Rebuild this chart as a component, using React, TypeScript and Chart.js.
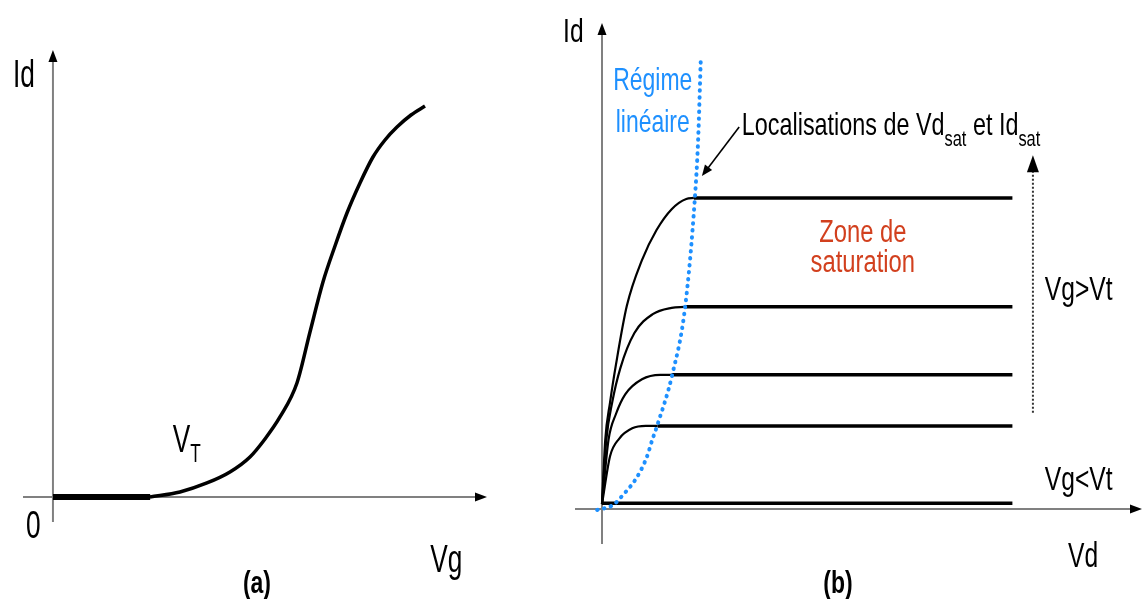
import React, { useEffect, useRef } from "react";
import { Chart, registerables } from "chart.js";
Chart.register(...registerables);

// ---------------- Panel (a): Id = f(Vg) ----------------
const offVg = [0, 2.24];
const offId = [0, 0];
const onVg = [2.235, 2.926, 3.548, 4.078, 4.539, 4.885, 5.23, 5.622, 5.922, 6.221, 6.498, 6.774, 7.074, 7.373, 7.65, 7.926, 8.249, 8.571];
const onId = [0, 0.112, 0.313, 0.559, 0.895, 1.298, 1.79, 2.55, 3.691, 4.81, 5.615, 6.353, 7.025, 7.606, 7.987, 8.277, 8.546, 8.747];

// ---------------- Panel (b): Id = f(Vd) ----------------
const curveVd = [
  [0, 0.06, 0.15, 0.26, 0.46, 0.74, 1.01, 1.29, 1.56, 1.7],
  [0, 0.08, 0.19, 0.34, 0.6, 0.94, 1.29, 1.53],
  [0, 0.12, 0.26, 0.43, 0.74, 1.08, 1.29],
  [0, 0.15, 0.32, 0.56, 0.81, 1.03],
];
const curveId = [
  [0.1, 1.42, 2.2, 2.98, 4.18, 5.12, 5.74, 6.17, 6.38, 6.4],
  [0.1, 1.42, 2.2, 2.9, 3.62, 4.01, 4.14, 4.16],
  [0.1, 1.42, 1.96, 2.36, 2.67, 2.76, 2.76],
  [0.1, 1.09, 1.45, 1.66, 1.71, 1.71],
];
const satVd = [1.7, 1.53, 1.29, 1.03];
const satId = [6.4, 4.16, 2.76, 1.71];
const flatEndVd = 7.6;
const offStateId = 0.12;
const locusVd = [-0.09, 0.2, 0.39, 0.65, 0.83, 0.93, 1.02, 1.3, 1.54, 1.72, 1.78, 1.83];
const locusId = [-0.02, 0.08, 0.29, 0.66, 1.07, 1.42, 1.71, 2.76, 4.16, 6.4, 7.59, 9.28];

const FONT = '"Liberation Sans", Arial, sans-serif';
const SX = 0.82;
const BLUE = "#1E90FF";
const RED = "#D2401E";

const pts = (xs: number[], ys: number[]) => xs.map((x, i) => ({ x, y: ys[i] }));

function text(
  ctx: CanvasRenderingContext2D,
  s: string,
  x: number,
  y: number,
  size: number,
  o: { bold?: boolean; color?: string; align?: CanvasTextAlign; sy?: number } = {}
) {
  ctx.save();
  ctx.font = `${o.bold ? "bold " : ""}${size}px ${FONT}`;
  const w = ctx.measureText(s).width * SX;
  let dx = 0;
  if (o.align === "center") dx = -w / 2;
  if (o.align === "right") dx = -w;
  ctx.translate(x + dx, y);
  ctx.scale(SX, o.sy ?? 1);
  ctx.fillStyle = o.color ?? "#000";
  ctx.textAlign = "left";
  ctx.textBaseline = "alphabetic";
  ctx.fillText(s, 0, 0);
  ctx.restore();
  return w;
}

function head(ctx: CanvasRenderingContext2D, x: number, y: number, ang: number, len: number, hw: number, color = "#000") {
  ctx.save();
  ctx.translate(x, y);
  ctx.rotate(ang);
  ctx.fillStyle = color;
  ctx.beginPath();
  ctx.moveTo(0, 0);
  ctx.lineTo(-len, -hw);
  ctx.lineTo(-len, hw);
  ctx.closePath();
  ctx.fill();
  ctx.restore();
}

const axesPlugin = {
  id: "arrowAxes",
  beforeDatasetsDraw(chart: any) {
    const { ctx, chartArea: a, scales } = chart;
    const x0 = scales.x.getPixelForValue(0);
    const y0 = scales.y.getPixelForValue(0);
    ctx.save();
    ctx.strokeStyle = "#808080";
    ctx.lineWidth = 2;
    ctx.beginPath();
    ctx.moveTo(a.left, y0);
    ctx.lineTo(a.right - 6, y0);
    ctx.moveTo(x0, a.bottom);
    ctx.lineTo(x0, a.top + 6);
    ctx.stroke();
    head(ctx, a.right, y0, 0, 12, 4.5);
    head(ctx, x0, a.top, -Math.PI / 2, 12, 4.5);
    ctx.restore();
  },
};

function baseOptions(pad: any, xr: [number, number], yr: [number, number]) {
  return {
    responsive: false,
    animation: false as const,
    layout: { padding: pad },
    plugins: { legend: { display: false }, tooltip: { enabled: false } },
    scales: {
      x: { type: "linear" as const, display: false, min: xr[0], max: xr[1] },
      y: { type: "linear" as const, display: false, min: yr[0], max: yr[1] },
    },
    elements: { point: { radius: 0 } },
  };
}

const labelsA = {
  id: "labelsA",
  afterDatasetsDraw(chart: any) {
    const { ctx, scales } = chart;
    const X = (v: number) => scales.x.getPixelForValue(v);
    const Y = (v: number) => scales.y.getPixelForValue(v);
    text(ctx, "Id", X(-0.92), Y(9.17), 32, { sy: 1.2 });
    text(ctx, "0", X(-0.62), Y(-0.92), 32, { sy: 1.2 });
    const w = text(ctx, "V", X(2.76), Y(1.01), 32, { sy: 1.2 });
    text(ctx, "T", X(2.76) + w, Y(1.01) + 10, 21, { sy: 1.2 });
    text(ctx, "Vg", X(8.69), Y(-1.68), 32, { sy: 1.2 });
    text(ctx, "(a)", X(4.7), Y(-2.15), 28, { bold: true, align: "center", sy: 1.15 });
  },
};

const labelsB = {
  id: "labelsB",
  afterDatasetsDraw(chart: any) {
    const { ctx, scales } = chart;
    const X = (v: number) => scales.x.getPixelForValue(v);
    const Y = (v: number) => scales.y.getPixelForValue(v);
    text(ctx, "Id", X(-0.72), Y(9.61), 30, { sy: 1.1 });
    text(ctx, "Régime", X(0.94), Y(8.62), 28, { color: BLUE, align: "center", sy: 1.1 });
    text(ctx, "linéaire", X(0.94), Y(7.76), 28, { color: BLUE, align: "center", sy: 1.1 });
    // pointer arrow
    const ax1 = X(2.54), ay1 = Y(7.86), ax2 = X(1.85), ay2 = Y(6.85);
    ctx.save();
    ctx.strokeStyle = "#000";
    ctx.lineWidth = 1.6;
    ctx.beginPath();
    ctx.moveTo(ax1, ay1);
    const ang = Math.atan2(ay2 - ay1, ax2 - ax1);
    ctx.lineTo(ax2 - Math.cos(ang) * 8, ay2 - Math.sin(ang) * 8);
    ctx.stroke();
    head(ctx, ax2, ay2, ang, 11, 4.5);
    ctx.restore();
    // title
    let cx = X(2.59);
    const by = Y(7.7);
    cx += text(ctx, "Localisations de Vd", cx, by, 28.5, { sy: 1.08 });
    cx += text(ctx, "sat", cx, by + 11, 20, { sy: 1.08 });
    cx += text(ctx, " et Id", cx, by, 28.5, { sy: 1.08 });
    text(ctx, "sat", cx, by + 11, 20, { sy: 1.08 });
    // zone
    text(ctx, "Zone de", X(4.83), Y(5.49), 29, { color: RED, align: "center", sy: 1.1 });
    text(ctx, "saturation", X(4.83), Y(4.88), 29, { color: RED, align: "center", sy: 1.1 });
    // dotted vertical arrow
    const vx = X(7.98);
    ctx.save();
    ctx.strokeStyle = "#333";
    ctx.lineWidth = 2;
    ctx.setLineDash([2, 2]);
    ctx.beginPath();
    ctx.moveTo(vx, Y(1.98));
    ctx.lineTo(vx, Y(7.28) + 15);
    ctx.stroke();
    ctx.restore();
    head(ctx, vx, Y(7.28), -Math.PI / 2, 17, 6);
    text(ctx, "Vg>Vt", X(8.2), Y(4.3), 30, { sy: 1.1 });
    text(ctx, "Vg<Vt", X(8.2), Y(0.39), 30, { sy: 1.1 });
    text(ctx, "Vd", X(8.63), Y(-1.19), 30, { sy: 1.15 });
    text(ctx, "(b)", X(4.37), Y(-1.73), 28, { bold: true, align: "center", sy: 1.15 });
  },
};

export default function App() {
  const refA = useRef<HTMLCanvasElement>(null);
  const refB = useRef<HTMLCanvasElement>(null);

  useEffect(() => {
    const line = (data: any[], width: number, extra: any = {}) => ({
      data,
      borderColor: "#000",
      borderWidth: width,
      pointRadius: 0,
      fill: false,
      clip: false,
      showLine: true,
      ...extra,
    });

    const chartA = new Chart(refA.current!, {
      type: "scatter",
      data: {
        datasets: [
          line(pts(offVg, offId), 6, { borderCapStyle: "butt" }),
          line(pts(onVg, onId), 3.5, { cubicInterpolationMode: "monotone" }),
        ],
      },
      options: baseOptions({ left: 23, top: 50, right: 550 - 487, bottom: 599 - 522 }, [-0.69, 10], [-0.56, 10]) as any,
      plugins: [axesPlugin, labelsA],
    });

    const dsB: any[] = [];
    dsB.push(
      line(pts(locusVd, locusId), 4, {
        borderColor: BLUE,
        borderDash: [0.5, 6.5],
        borderCapStyle: "round",
        cubicInterpolationMode: "monotone",
      })
    );
    satId.forEach((lvl, i) => {
      dsB.push(line(pts([satVd[i], flatEndVd], [lvl, lvl]), 3.5));
      dsB.push(line(pts(curveVd[i], curveId[i]), 2.2, { cubicInterpolationMode: "monotone" }));
    });
    dsB.push(line(pts([0, flatEndVd], [offStateId, offStateId]), 3.5));

    const chartB = new Chart(refB.current!, {
      type: "scatter",
      data: { datasets: dsB },
      options: baseOptions({ left: 25, top: 23, right: 0, bottom: 599 - 544 }, [-0.5, 10], [-0.72, 10]) as any,
      plugins: [axesPlugin, labelsB],
    });

    return () => {
      chartA.destroy();
      chartB.destroy();
    };
  }, []);

  return (
    <div style={{ position: "fixed", left: 0, top: 0, width: 1142, height: 599, background: "#fff" }}>
      <canvas ref={refA} width={550} height={599} style={{ position: "absolute", left: 0, top: 0 }} />
      <canvas ref={refB} width={592} height={599} style={{ position: "absolute", left: 550, top: 0 }} />
    </div>
  );
}
